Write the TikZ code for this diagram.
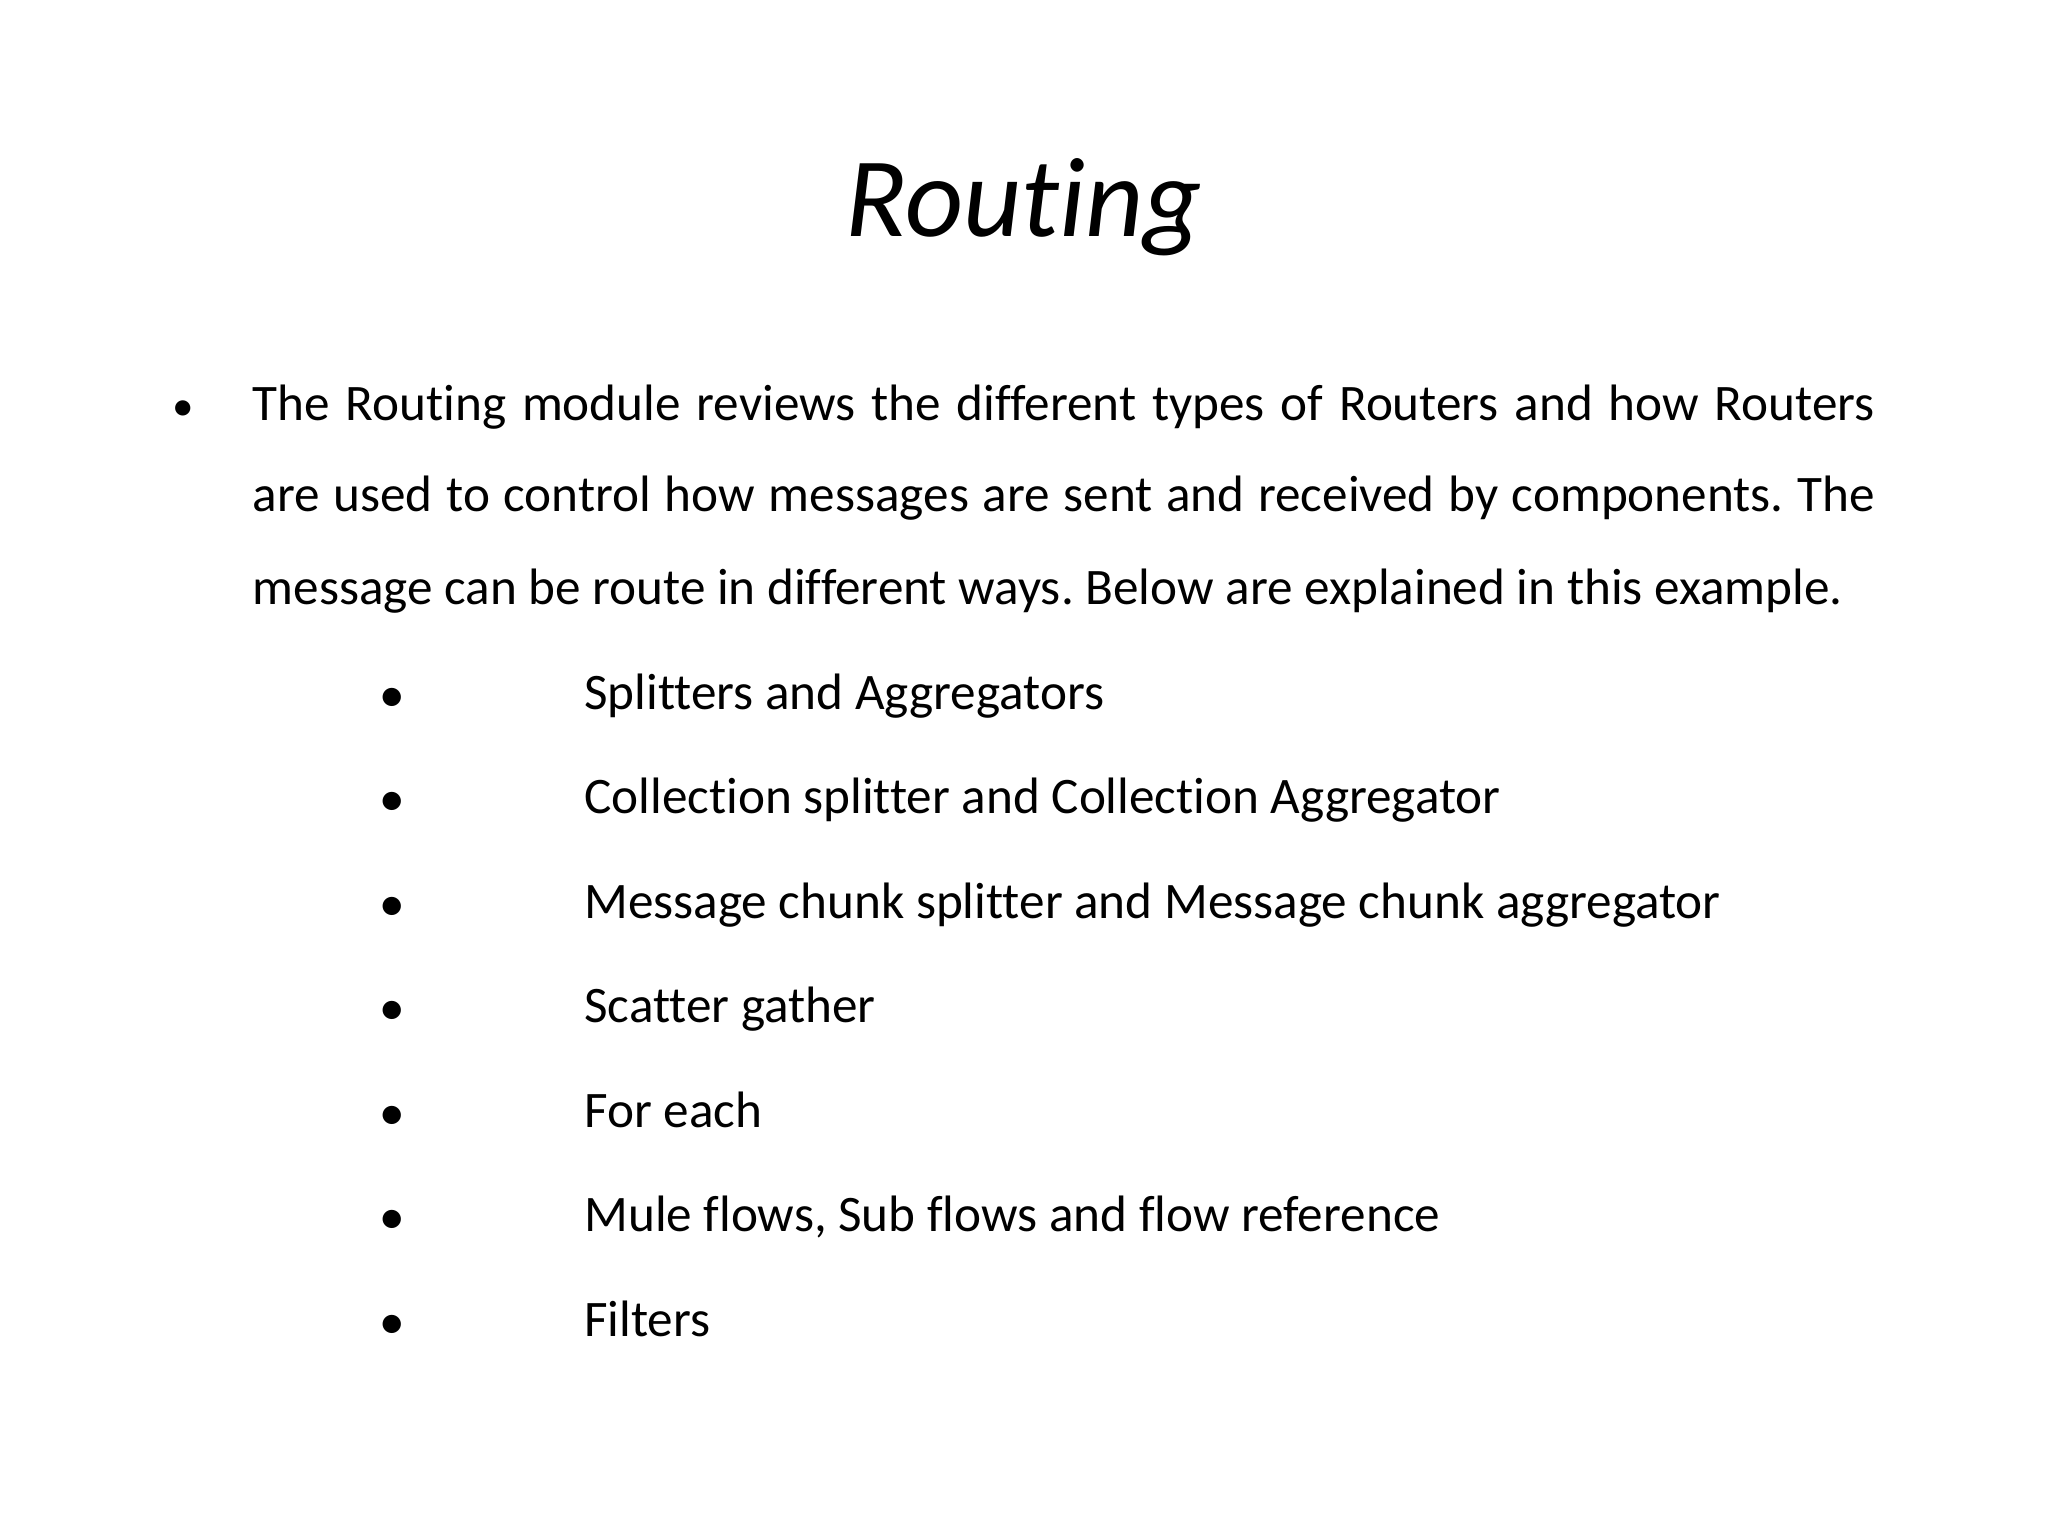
\documentclass[tikz,border=0pt]{standalone}
\usepackage{fontspec}
\setmainfont[Ligatures=NoCommon]{Carlito}
\frenchspacing
\begin{document}
\begin{tikzpicture}[x=0.5pt,y=-0.5pt,
  body/.style={anchor=base west,inner sep=0pt,font=\fontsize{19.6pt}{24pt}\selectfont},
  dot/.style={anchor=base,inner sep=0pt,font=\fontsize{16.5pt}{20pt}\selectfont}]
\useasboundingbox[fill=white] (0,0) rectangle (1568,1176);
\node[anchor=base,inner sep=0pt,font=\fontsize{43.4pt}{52pt}\selectfont\itshape] (title) at (784,181) {Routing};
\node[dot] (b0) at (140,322) {•};
\node[body] (l1) at (193,322) {\makebox[621pt][s]{The Routing module reviews the different types of Routers and how Routers}};
\node[body] (l2) at (193,392) {\makebox[621pt][s]{are used to control how messages are sent and received by components. The}};
\node[body] (l3) at (193,463) {message can be route in different ways. Below are explained in this example.};
\foreach \t [count=\i] in {Splitters and Aggregators,Collection splitter and Collection Aggregator,Message chunk splitter and Message chunk aggregator,Scatter gather,For each,{Mule flows, Sub flows and flow reference},Filters}{
  \node[dot] (d\i) at (300,463+\i*80) {\textbf{•}};
  \node[body] (s\i) at (447,463+\i*80) {\t};
}
\end{tikzpicture}
\end{document}
